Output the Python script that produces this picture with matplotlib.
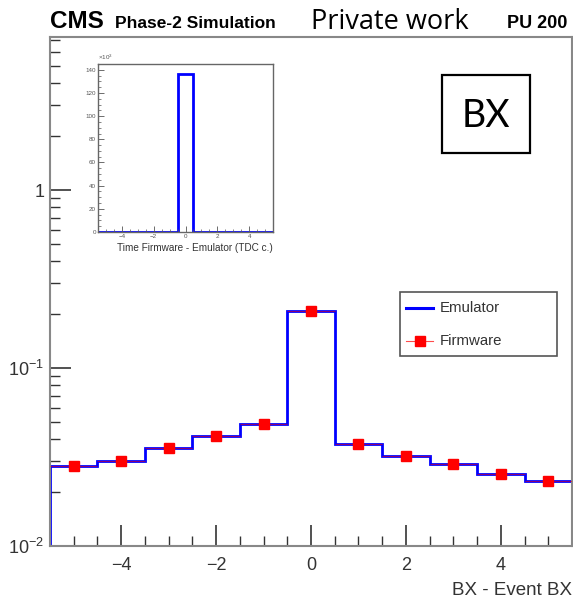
import numpy as np
import matplotlib
matplotlib.use("Agg")
import matplotlib.pyplot as plt
from matplotlib.ticker import FixedLocator, NullFormatter, LogLocator
from matplotlib.lines import Line2D
from matplotlib.patches import Rectangle

plt.rcParams['font.family'] = ['Liberation Sans', 'DejaVu Sans']
plt.rcParams['mathtext.fontset'] = 'custom'
plt.rcParams['mathtext.rm'] = 'Liberation Sans'

# ---- data ----
bx_centers = [-5, -4, -3, -2, -1, 0, 1, 2, 3, 4, 5]
emulator = [0.0281, 0.0300, 0.0354, 0.0413, 0.0485, 0.209, 0.0373, 0.0319, 0.0290, 0.0253, 0.0233]
firmware = [0.0281, 0.0300, 0.0354, 0.0413, 0.0485, 0.209, 0.0373, 0.0319, 0.0290, 0.0253, 0.0233]

tdc_centers = [-5, -4, -3, -2, -1, 0, 1, 2, 3, 4, 5]
tdc_counts_k = [0, 0, 0, 0, 0, 136, 0, 0, 0, 0, 0]

W, H = 573, 599
fig = plt.figure(figsize=(W / 100, H / 100), dpi=100)

def rect(x0, y0, x1, y1):
    return [x0 / W, 1 - y1 / H, (x1 - x0) / W, (y1 - y0) / H]

def fx(x):
    return x / W

def fy(y):
    return 1 - y / H

ax = fig.add_axes(rect(50, 37, 572, 546))
edges = np.append(np.array(bx_centers) - 0.5, bx_centers[-1] + 0.5)
ax.stairs(emulator, edges, color='#0000ff', lw=2.0, zorder=2)
ax.errorbar(bx_centers, firmware, xerr=0.5, fmt='none', ecolor=(1, 0, 0, 0.55),
            elinewidth=0.7, capsize=0, zorder=3)
ax.plot(bx_centers, firmware, 's', color='red', ms=6.8, zorder=4)
ax.set_yscale('log')
ax.set_xlim(-5.5, 5.5)
ax.set_ylim(0.01, 10 ** 0.86)
ax.set_xticks([-4, -2, 0, 2, 4])
ax.set_xticklabels(['\u22124', '\u22122', '0', '2', '4'])
ax.xaxis.set_minor_locator(FixedLocator(np.arange(-5, 5.51, 0.5)))
ax.set_yticks([0.01, 0.1, 1])
ax.set_yticklabels([r'$10^{-2}$', r'$10^{-1}$', '1'])
ax.yaxis.set_minor_locator(LogLocator(base=10, subs=np.arange(2, 10) * 1.0))
ax.yaxis.set_minor_formatter(NullFormatter())
ax.tick_params(which='both', direction='in', top=False, right=False, labelsize=13, colors='#333333')
ax.tick_params(which='major', length=15, width=1.2)
ax.tick_params(which='minor', length=7, width=1.0)
ax.tick_params(axis='x', pad=8)
ax.tick_params(axis='y', pad=4)
for sp in ax.spines.values():
    sp.set_color('#888888')
    sp.set_linewidth(1.5)
fig.text(fx(572), fy(595), 'BX - Event BX', fontsize=13.5, color='#333333', ha='right', va='baseline')

# legend (drawn by hand in figure pixels)
fig.patches.append(Rectangle((fx(400), fy(356)), fx(557) - fx(400), fy(292) - fy(356),
                             transform=fig.transFigure, fc='white', ec='#555555', lw=1.2, zorder=5))
fig.lines.append(Line2D([fx(406), fx(433)], [fy(308), fy(308)], transform=fig.transFigure,
                        color='#0000ff', lw=2.2, zorder=6))
fig.lines.append(Line2D([fx(406), fx(433)], [fy(341), fy(341)], transform=fig.transFigure,
                        color='red', lw=0.8, alpha=0.7, zorder=6))
fig.lines.append(Line2D([fx(419.5)], [fy(341)], transform=fig.transFigure, color='red',
                        marker='s', ms=6.8, lw=0, zorder=6))
fig.text(fx(440), fy(308), 'Emulator', fontsize=10.8, color='#333333', va='center', zorder=7)
fig.text(fx(440), fy(341), 'Firmware', fontsize=10.8, color='#333333', va='center', zorder=7)

# BX box
fig.patches.append(Rectangle((fx(442), fy(153)), fx(530) - fx(442), fy(75) - fy(153),
                             transform=fig.transFigure, fc='white', ec='black', lw=1.6, zorder=5))
fig.text(fx(486), fy(116), 'BX', fontsize=27, family='Lato', ha='center', va='center', zorder=7)

# titles
fig.text(fx(50), fy(28), 'CMS', fontsize=17.5, weight='bold', va='baseline')
fig.text(fx(115), fy(28), 'Phase-2 Simulation', fontsize=12.5, weight='bold', va='baseline')
fig.text(fx(311), fy(29), 'Private work', fontsize=19.5, family='Open Sans', va='baseline')
fig.text(fx(567), fy(28), 'PU 200', fontsize=13, weight='bold', va='baseline', ha='right')

# inset
ai = fig.add_axes(rect(98, 64, 273, 232))
tedges = np.append(np.array(tdc_centers) - 0.5, tdc_centers[-1] + 0.5)
ai.stairs(tdc_counts_k, tedges, color='#0000ff', lw=2.0, baseline=0)
ai.set_xlim(-5.5, 5.5)
ai.set_ylim(0, 145)
ai.set_xticks([-4, -2, 0, 2, 4])
ai.set_xticklabels(['\u22124', '\u22122', '0', '2', '4'])
ai.xaxis.set_minor_locator(FixedLocator(np.arange(-5, 5.51, 0.5)))
ai.set_yticks(np.arange(0, 141, 20))
ai.yaxis.set_minor_locator(FixedLocator(np.arange(0, 145, 5)))
ai.tick_params(which='both', direction='in', top=False, right=False, labelsize=4.5, colors='#555555', pad=1.5)
ai.tick_params(which='major', length=4, width=0.6)
ai.tick_params(which='minor', length=2, width=0.5)
for sp in ai.spines.values():
    sp.set_color('#666666')
    sp.set_linewidth(1.0)
ai.set_xlabel('Time Firmware - Emulator (TDC c.)', fontsize=7.2, color='#333333', loc='right', labelpad=3)
ai.text(0.0, 1.01, r'$\times10^{3}$', transform=ai.transAxes, fontsize=4.5, color='#555555', va='bottom')

fig.savefig('out.png', dpi=100)
